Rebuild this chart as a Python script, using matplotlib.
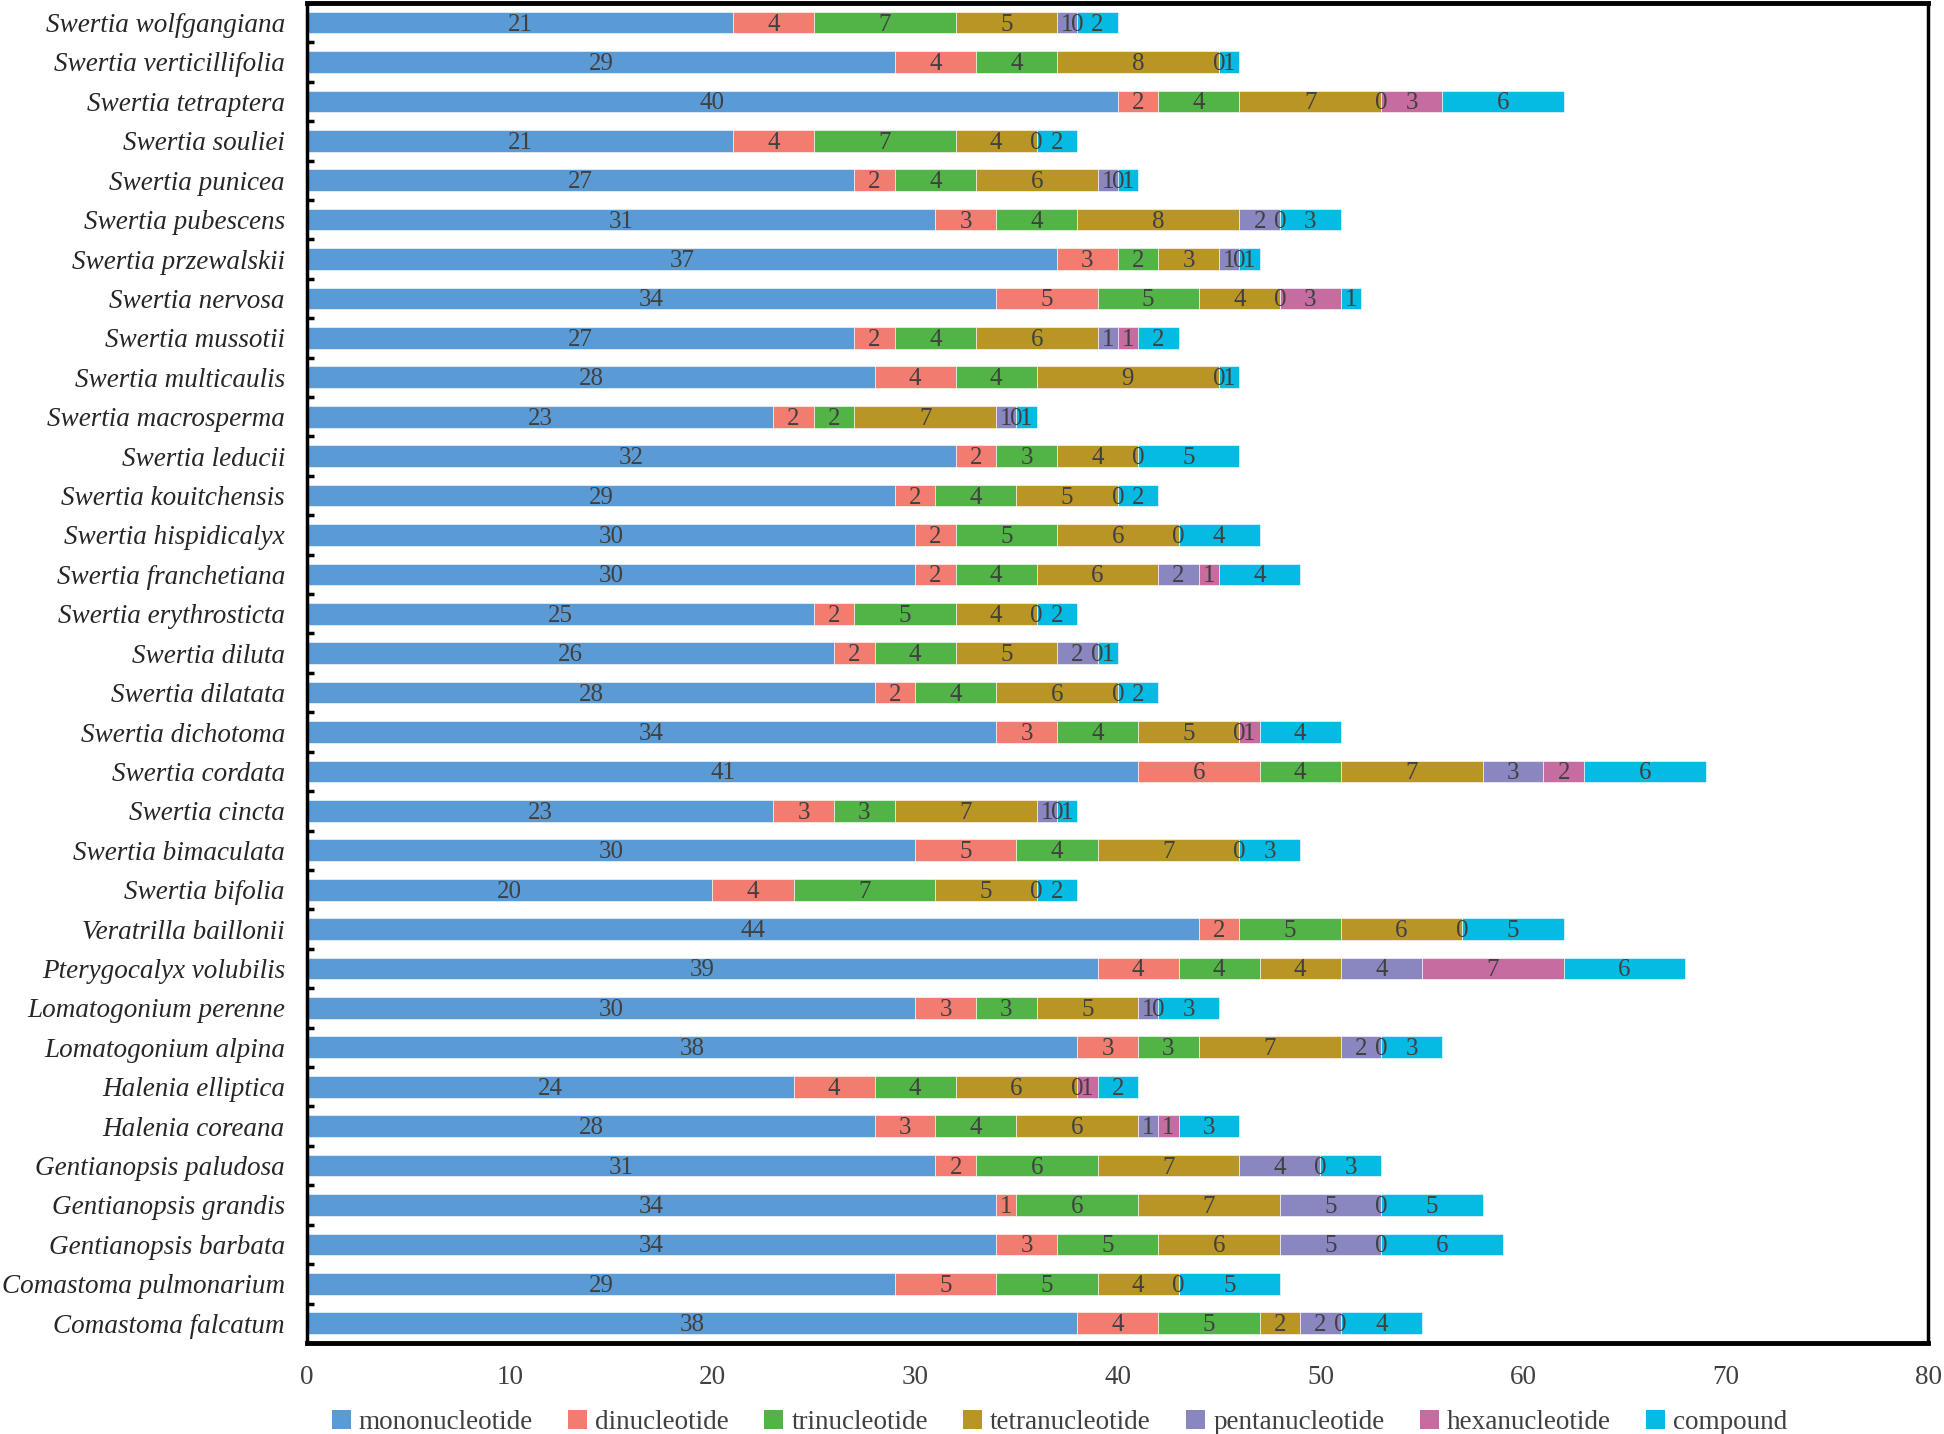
import numpy as np
import matplotlib.pyplot as plt
from matplotlib.patches import Patch

plt.rcParams['font.family'] = ['Liberation Serif', 'DejaVu Serif']

# species, top to bottom as in the figure
species = [
    'Swertia wolfgangiana', 'Swertia verticillifolia', 'Swertia tetraptera',
    'Swertia souliei', 'Swertia punicea', 'Swertia pubescens',
    'Swertia przewalskii', 'Swertia nervosa', 'Swertia mussotii',
    'Swertia multicaulis', 'Swertia macrosperma', 'Swertia leducii',
    'Swertia kouitchensis', 'Swertia hispidicalyx', 'Swertia franchetiana',
    'Swertia erythrosticta', 'Swertia diluta', 'Swertia dilatata',
    'Swertia dichotoma', 'Swertia cordata', 'Swertia cincta',
    'Swertia bimaculata', 'Swertia bifolia', 'Veratrilla baillonii',
    'Pterygocalyx volubilis', 'Lomatogonium perenne', 'Lomatogonium alpina',
    'Halenia elliptica', 'Halenia coreana', 'Gentianopsis paludosa',
    'Gentianopsis grandis', 'Gentianopsis barbata', 'Comastoma pulmonarium',
    'Comastoma falcatum',
]

nan = np.nan
mono  = [21, 29, 40, 21, 27, 31, 37, 34, 27, 28, 23, 32, 29, 30, 30, 25, 26,
         28, 34, 41, 23, 30, 20, 44, 39, 30, 38, 24, 28, 31, 34, 34, 29, 38]
di    = [4, 4, 2, 4, 2, 3, 3, 5, 2, 4, 2, 2, 2, 2, 2, 2, 2,
         2, 3, 6, 3, 5, 4, 2, 4, 3, 3, 4, 3, 2, 1, 3, 5, 4]
tri   = [7, 4, 4, 7, 4, 4, 2, 5, 4, 4, 2, 3, 4, 5, 4, 5, 4,
         4, 4, 4, 3, 4, 7, 5, 4, 3, 3, 4, 4, 6, 6, 5, 5, 5]
tetra = [5, 8, 7, 4, 6, 8, 3, 4, 6, 9, 7, 4, 5, 6, 6, 4, 5,
         6, 5, 7, 7, 7, 5, 6, 4, 5, 7, 6, 6, 7, 7, 6, 4, 2]
penta = [1, 0, 0, 0, 1, 2, 1, 0, 1, 0, 1, 0, 0, 0, 2, 0, 2,
         0, 0, 3, 1, 0, 0, 0, 4, 1, 2, 0, 1, 4, 5, 5, 0, 2]
hexa  = [0, nan, 3, nan, 0, 0, 0, 3, 1, nan, 0, nan, nan, nan, 1, nan, 0,
         nan, 1, 2, 0, nan, nan, nan, 7, 0, 0, 1, 1, 0, 0, 0, nan, 0]
comp  = [2, 1, 6, 2, 1, 3, 1, 1, 2, 1, 1, 5, 2, 4, 4, 2, 1,
         2, 4, 6, 1, 3, 2, 5, 6, 3, 3, 2, 3, 3, 5, 6, 5, 4]

series = ['mononucleotide', 'dinucleotide', 'trinucleotide', 'tetranucleotide',
          'pentanucleotide', 'hexanucleotide', 'compound']
colors = ['#5B9BD5', '#F37C70', '#52B346', '#B99526', '#8A86C0', '#C66CA0', '#05BAE3']
data = [mono, di, tri, tetra, penta, hexa, comp]

fig = plt.figure(figsize=(19.44, 14.34), dpi=100)
ax = fig.add_axes([0.158, 0.0635, 0.834, 0.9345])

y = np.arange(len(species))
left = np.zeros(len(species))
for name, vals, c in zip(series, data, colors):
    vals = np.array(vals, dtype=float)
    w = np.nan_to_num(vals)
    ax.barh(y, w, left=left, height=0.55, color=c, edgecolor='white',
            linewidth=0.4, label=name)
    for yi, v, l in zip(y, vals, left):
        if np.isnan(v):
            continue
        ax.text(l + v / 2, yi + 0.05, f'{int(v)}', ha='center', va='center',
                fontsize=18, color='#404040')
    left += w

ax.set_yticks(y)
ax.set_yticklabels(species, fontsize=19.5, style='italic')
ax.set_ylim(len(species) - 0.5, -0.5)
ax.set_yticks(np.arange(len(species) - 1) + 0.5, minor=True)
ax.tick_params(axis='y', which='major', length=0, pad=16)
ax.tick_params(axis='y', which='minor', length=5, width=2.5, direction='in')

ax.set_xlim(0, 80)
ax.set_xticks(range(0, 81, 10))
ax.tick_params(axis='x', length=0, labelsize=19.5, pad=16, colors='#404040')
ax.tick_params(axis='y', labelcolor='#262626')

for s in ax.spines.values():
    s.set_color('black')
    s.set_linewidth(2.5)
ax.spines['top'].set_linewidth(3.5)
ax.spines['bottom'].set_linewidth(3.5)

handles = [Patch(facecolor=c, label=n) for n, c in zip(series, colors)]
fig.legend(handles=handles, loc='lower center', ncol=7, frameon=False,
           fontsize=19.5, bbox_to_anchor=(0.545, -0.018), handlelength=0.7,
           handleheight=0.7, handletextpad=0.3, columnspacing=1.3,
           labelcolor='#404040')

fig.savefig('out.png', dpi=100)
